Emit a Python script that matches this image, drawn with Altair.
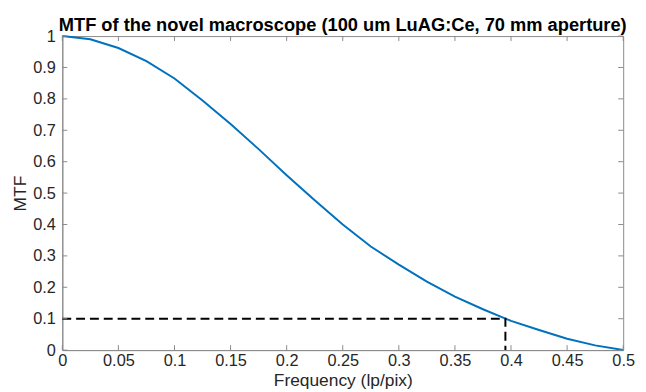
import altair as alt
import pandas as pd

freq = [0.0, 0.025, 0.05, 0.075, 0.1, 0.125, 0.15, 0.175, 0.2, 0.225, 0.25,
        0.275, 0.3, 0.325, 0.35, 0.375, 0.4, 0.425, 0.45, 0.475, 0.5]
mtf = [1.0, 0.99, 0.962, 0.92, 0.865, 0.795, 0.72, 0.64, 0.557, 0.477, 0.40,
       0.33, 0.272, 0.218, 0.17, 0.13, 0.093, 0.064, 0.036, 0.015, 0.0]

cut_x = [0.0, 0.395, 0.395]
cut_y = [0.1, 0.1, 0.0]

xticks = [0, 0.05, 0.1, 0.15, 0.2, 0.25, 0.3, 0.35, 0.4, 0.45, 0.5]
yticks = [0, 0.1, 0.2, 0.3, 0.4, 0.5, 0.6, 0.7, 0.8, 0.9, 1.0]

W, H = 568, 318
FONT = "Liberation Sans"
AX = "#8a8a8a"
TXT = "#262626"

curve = pd.DataFrame({"f": freq, "m": mtf, "o": range(len(freq))})
cut = pd.DataFrame({"f": cut_x, "m": cut_y, "o": range(len(cut_x))})
xt = pd.DataFrame({"t": xticks})
yt = pd.DataFrame({"t": yticks})

xscale = alt.Scale(domain=[0, 0.5], nice=False, zero=False)
yscale = alt.Scale(domain=[0, 1], nice=False, zero=False)

common = dict(tickSize=0, grid=False, domainColor=AX, labelFontSize=16.5,
              titleFontSize=17.6, titleFontWeight="normal", labelColor=TXT,
              titleColor=TXT, labelFont=FONT, titleFont=FONT,
              labelOverlap=False, labelFlush=False, labelBound=False)

xaxis = alt.Axis(values=xticks, format=".2~f", title="Frequency (lp/pix)",
                 labelPadding=3, titlePadding=2, **common)
yaxis = alt.Axis(values=yticks, format=".1~f", title="MTF",
                 labelPadding=7, titlePadding=3, **common)


def X(f):
    return alt.X(f, scale=xscale, axis=xaxis, title="Frequency (lp/pix)")


def Y(f):
    return alt.Y(f, scale=yscale, axis=yaxis, title="MTF")


line = alt.Chart(curve).mark_line(color="#0072BD", strokeWidth=2).encode(
    x=X("f:Q"), y=Y("m:Q"), order="o:Q")

dash = alt.Chart(cut).mark_line(color="black", strokeWidth=2, strokeDash=[9, 5]).encode(
    x=X("f:Q"), y=Y("m:Q"), order="o:Q")

tl = 5
xb = alt.Chart(xt).mark_rule(color=AX, strokeWidth=1).encode(
    x=X("t:Q"), y=alt.value(H), y2=alt.value(H - tl))
xtop = alt.Chart(xt).mark_rule(color=AX, strokeWidth=1).encode(
    x=X("t:Q"), y=alt.value(0), y2=alt.value(tl))
yl = alt.Chart(yt).mark_rule(color=AX, strokeWidth=1).encode(
    y=Y("t:Q"), x=alt.value(0), x2=alt.value(tl))
yr = alt.Chart(yt).mark_rule(color=AX, strokeWidth=1).encode(
    y=Y("t:Q"), x=alt.value(W), x2=alt.value(W - tl))

chart = alt.layer(line, dash, xb, xtop, yl, yr).properties(
    width=W, height=H,
    title=alt.TitleParams(
        "MTF of the novel macroscope (100 um LuAG:Ce, 70 mm aperture)",
        fontSize=18.5, fontWeight="bold", font=FONT, color="black",
        anchor="middle", offset=-6),
    autosize=alt.AutoSizeParams(type="none"),
    padding={"left": 55, "top": 26, "right": 15, "bottom": 40},
).configure_view(stroke=AX, strokeWidth=1)

chart.save("out.html", embed_options={"renderer": "svg", "actions": False})
